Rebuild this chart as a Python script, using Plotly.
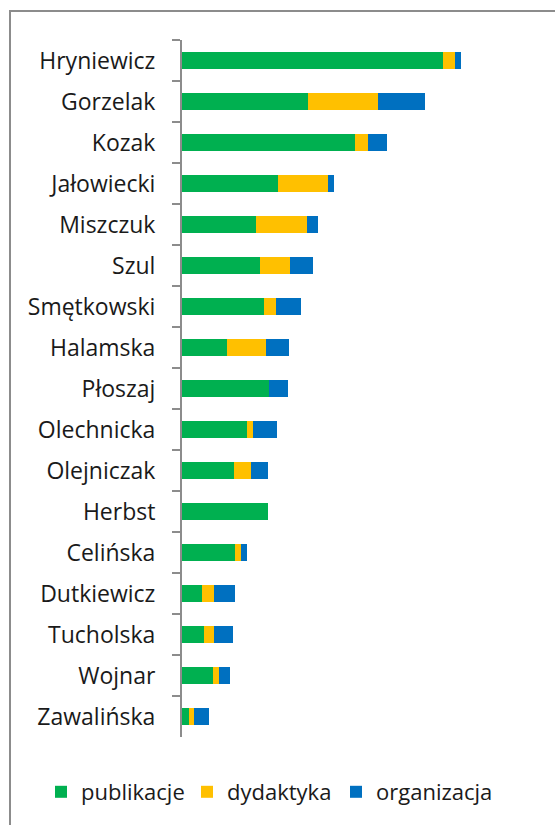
import plotly.graph_objects as go

names = ["Hryniewicz", "Gorzelak", "Kozak", "Jałowiecki", "Miszczuk", "Szul",
         "Smętkowski", "Halamska", "Płoszaj", "Olechnicka", "Olejniczak", "Herbst",
         "Celińska", "Dutkiewicz", "Tucholska", "Wojnar", "Zawalińska"]
publikacje = [26.1, 12.6, 17.3, 9.6, 7.4, 7.8, 8.2, 4.5, 8.7, 6.5, 5.2, 8.6, 5.3, 2.0, 2.2, 3.1, 0.7]
dydaktyka = [1.2, 7.0, 1.3, 5.0, 5.1, 3.0, 1.2, 3.9, 0.0, 0.6, 1.7, 0.0, 0.6, 1.2, 1.0, 0.6, 0.5]
organizacja = [0.6, 4.7, 1.9, 0.6, 1.1, 2.3, 2.5, 2.3, 1.9, 2.4, 1.7, 0.0, 0.6, 2.1, 1.9, 1.1, 1.5]

series = [("publikacje", publikacje, "#00B050", "legend"),
          ("dydaktyka", dydaktyka, "#FFC000", "legend2"),
          ("organizacja", organizacja, "#0070C0", "legend3")]

FONT = "Open Sans"
TXT = "#1a1a1a"
fig = go.Figure()
for nm, vals, col, lg in series:
    fig.add_trace(go.Bar(y=names, x=vals, name=nm, orientation="h", legend=lg,
                         marker=dict(color=col, line=dict(width=0))))

W, H = 555, 825
L, R, T, B = 182, 15, 40, 88
pw, ph = W - L - R, H - T - B

legend_text_x = [85, 231, 380]
legend_y = 1 - 792 / H


def leg(tx):
    return dict(orientation="h", xref="container", yref="container",
                x=(tx - 44) / W, xanchor="left", y=legend_y, yanchor="middle",
                font=dict(family=FONT, size=22, color=TXT), itemwidth=30,
                bgcolor="rgba(0,0,0,0)", borderwidth=0)


fig.update_layout(
    width=W, height=H,
    barmode="stack", bargap=0.6,
    margin=dict(l=L, r=R, t=T, b=B, pad=0),
    paper_bgcolor="white", plot_bgcolor="white",
    font=dict(family=FONT, size=23, color=TXT),
    showlegend=True,
    legend=leg(legend_text_x[0]),
    legend2=leg(legend_text_x[1]),
    legend3=leg(legend_text_x[2]),
    xaxis=dict(range=[0, pw / 10], visible=False, showgrid=False, zeroline=False),
    yaxis=dict(type="category", categoryorder="array", categoryarray=names,
               autorange="reversed", showline=True, linecolor="#8c8c8c", linewidth=2,
               ticks="outside", ticklen=8, tickwidth=2, tickcolor="#8c8c8c",
               tickson="boundaries", showgrid=False, ticklabelstandoff=20,
               tickfont=dict(family=FONT, size=23, color=TXT)),
    shapes=[dict(type="rect", xref="paper", yref="paper",
                 x0=(10 - L) / pw, x1=1.2, y0=-0.3, y1=1 + (T - 11) / ph,
                 line=dict(color="#8c8c8c", width=2), fillcolor="rgba(0,0,0,0)",
                 layer="below")],
)

fig.write_html("out.html", config={"displayModeBar": False},
               post_script="document.body.style.margin='0';document.body.style.overflow='hidden';")
